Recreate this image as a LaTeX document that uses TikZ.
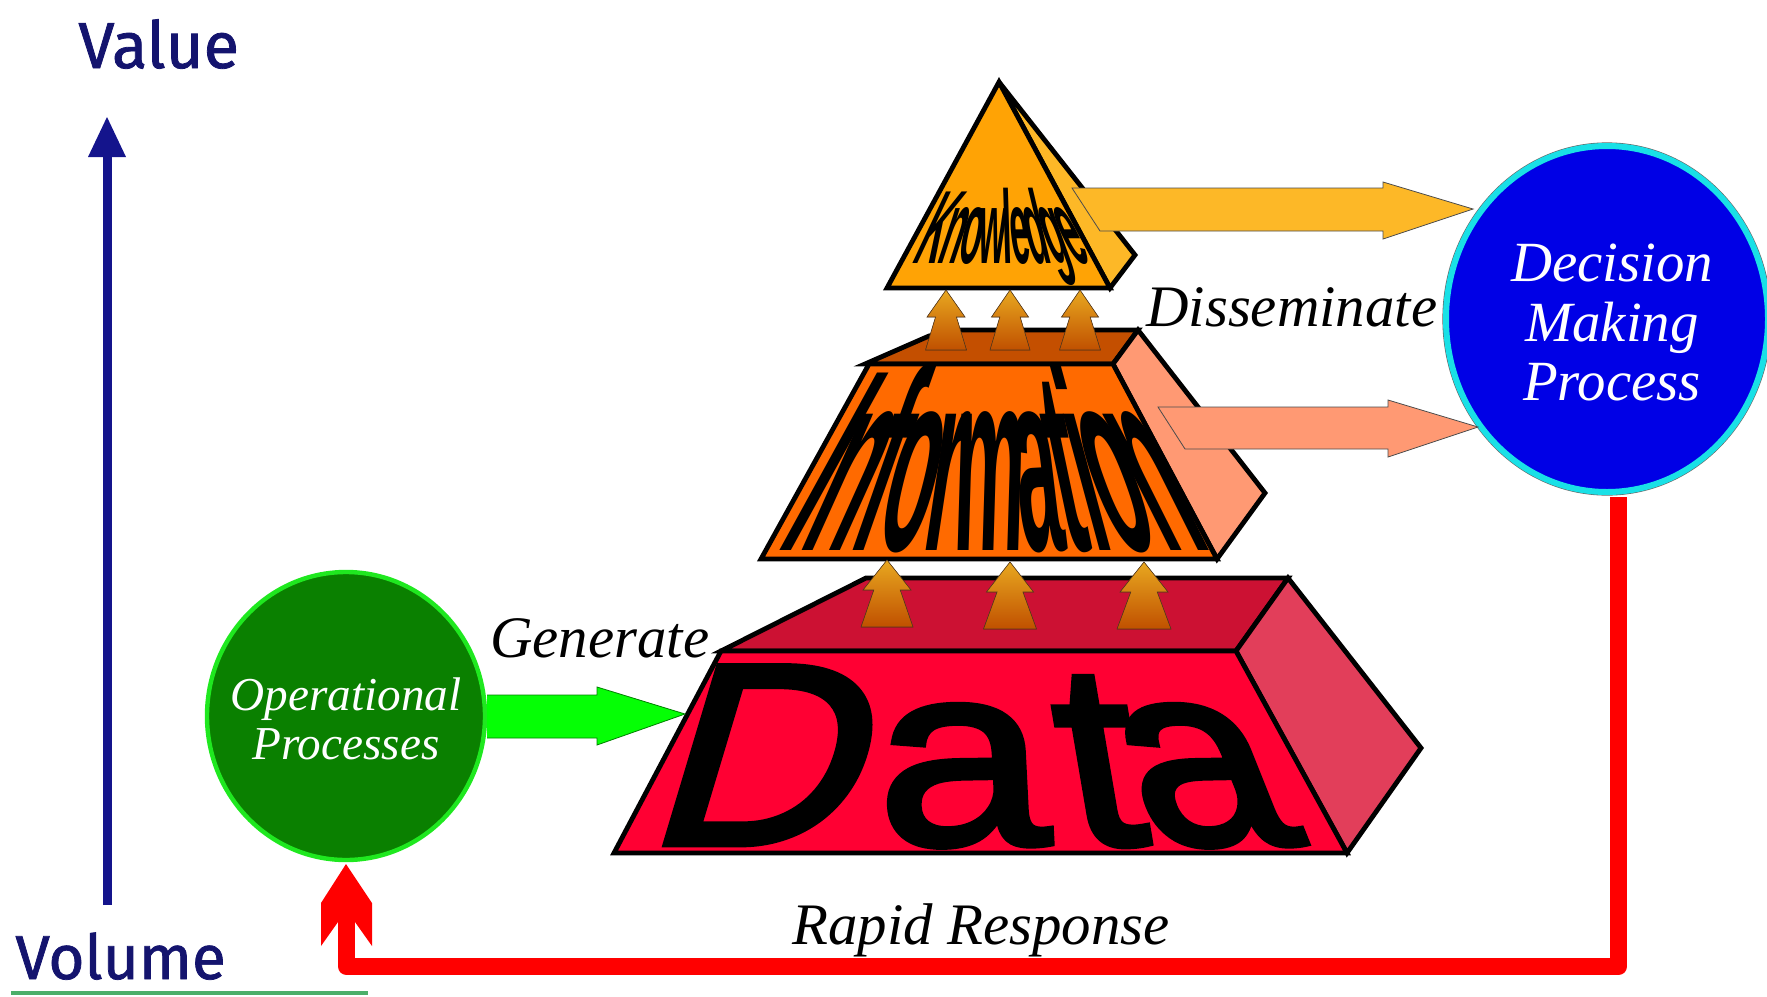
\documentclass[tikz,border=0pt]{standalone}
\usepackage{fontspec}
\usetikzlibrary{shapes.geometric}
\setmainfont{Liberation Serif}
\newfontfamily\handfont[FakeBold=1.2]{Fira Sans}
\newcommand\wl[3]{{\fontspec[FakeSlant=#1,FakeStretch=#2,BoldFont={*}]{Liberation Sans Bold}#3}}
\newcommand\wreg[3]{{\fontspec[FakeSlant=#1,FakeStretch=#2,FakeBold=2.6]{Liberation Sans}#3}}
\definecolor{navyT}{HTML}{14146E}
\definecolor{navyA}{HTML}{14148C}
\definecolor{kFront}{HTML}{FFA305}
\definecolor{kSide}{HTML}{FDB827}
\definecolor{iFront}{HTML}{FF6A00}
\definecolor{iTop}{HTML}{C44F00}
\definecolor{iSide}{HTML}{FF9973}
\definecolor{dFront}{HTML}{FF0033}
\definecolor{dTop}{HTML}{CC1133}
\definecolor{dSide}{HTML}{E23E5A}
\definecolor{gArrow}{HTML}{05FF05}
\definecolor{opFill}{HTML}{0A8000}
\definecolor{opRing}{HTML}{1FE81F}
\definecolor{dmFill}{HTML}{0000E6}
\definecolor{dmRing}{HTML}{19E0E6}
\definecolor{baseLine}{HTML}{4CAF6A}
\definecolor{liftTop}{HTML}{E8A820}
\definecolor{liftBot}{HTML}{C05000}
\tikzset{
  face/.style={draw=black,line width=2.4pt,line join=miter},
  block/.style={draw=black!70,line width=.4pt},
  serifit/.style={inner sep=0,font=\fontsize{29.4}{29.4}\selectfont\itshape},
  hand/.style={inner sep=0,text=navyT,font=\handfont\fontsize{#1}{#1}\selectfont},
  warp/.style={inner sep=0,anchor=base west,text=black}
}
\newcommand\liftarrow[7]{%
  \fill[draw=black!55!brown,line width=.3pt,top color=liftTop,bottom color=liftBot]
   (#1,#2) -- (#1+#3,#4) -- (#1+0.55*#3,#4) -- (#1+#5,#6) -- (#1-#5,#6) -- (#1-0.55*#3,#4) -- (#1-#3,#4) -- cycle;
  \coordinate (#7) at (#1,#2);}
\begin{document}
\begin{tikzpicture}[x=0.5pt,y=-0.5pt]
\useasboundingbox (0,0) rectangle (1767,996);
% axis
\coordinate (axisbot) at (107,905);
\coordinate (axistop) at (107,117);
\node[hand=32.5,anchor=base west] (value) at (78,68) {Value};
\node[hand=31,anchor=base west] (volume) at (15,979) {Volume};
\draw[navyA,line width=4.5pt] (axisbot) -- (107,150);
\fill[navyA] (axistop) -- (126,157) -- (88,157) -- cycle;
\draw[baseLine,line width=2pt] (11,993) -- (368,993);
% Data
\fill[dTop,face] (721,651) -- (866,578) -- (1288,578) -- (1236,651) -- cycle;
\fill[dSide,face] (1236,651) -- (1288,578) -- (1421,748) -- (1347,853) -- cycle;
\fill[dFront,face] (721,651) -- (1236,651) -- (1347,853) -- (614,853) -- cycle;
\node[warp,font=\fontsize{129}{129}\selectfont] (data) at (642,844) {\wreg{0.3}{1.12}{D}\kern 14pt\wreg{-0.05}{1.2}{a}\kern 11pt\wreg{-0.17}{1.1}{t}\wreg{-0.4}{1.08}{a}};
% Information
\fill[iTop,face] (865,364) -- (929,336) -- (960,330) -- (1138,330) -- (1113,364) -- cycle;
\fill[iSide,face] (1113,364) -- (1138,330) -- (1265,493) -- (1217,559) -- cycle;
\fill[iFront,face] (869,364) -- (1113,364) -- (1217,559) -- (761,559) -- cycle;
\node[warp,font=\fontsize{129}{129}\selectfont] (information) at (774,550) {\wl{.55}{.31}{I}\wl{.45}{.31}{n}\wl{.35}{.31}{f}\wl{.25}{.31}{o}\wl{.15}{.31}{r}\wl{.03}{.31}{m}\wl{-.12}{.31}{a}\wl{-.21}{.31}{t}\wl{-.27}{.31}{i}\wl{-.37}{.31}{o}\wl{-.5}{.31}{n}};
% Knowledge
\fill[kSide,face] (999,82) -- (1135,255) -- (1110,288) -- cycle;
\fill[kFront,face] (999,82) -- (1110,288) -- (887,288) -- cycle;
\node[warp,font=\fontsize{52}{52}\selectfont] (knowledge) at (910,263) {\wl{.47}{.33}{K}\wl{.33}{.33}{n}\wl{.21}{.33}{o}\wl{.07}{.33}{w}\wl{-.03}{.33}{l}\wl{-.11}{.33}{e}\wl{-.24}{.33}{d}\wl{-.36}{.33}{g}\wl{-.48}{.33}{e}};
% lift arrows
\liftarrow{946}{290}{19}{317}{20.5}{350}{la}
\liftarrow{1010}{290}{18.5}{317}{20}{350}{lb}
\liftarrow{1080}{290}{18.5}{317}{20.5}{350}{lc}
\liftarrow{887}{560}{24}{590}{26}{627}{ld}
\liftarrow{1010}{562}{23.5}{592}{26.5}{629}{le}
\liftarrow{1144}{562}{24}{592}{27}{629}{lf}
% circles
\node[ellipse,minimum width=139pt,minimum height=144pt,inner sep=0,fill=opFill,draw=opRing,line width=2.2pt] (op) at (346,716) {};
\node[text=white,align=center,inner sep=0,font=\fontsize{23.6}{24.5}\selectfont\itshape] (optext) at (346,719) {Operational\\Processes};
\node[ellipse,minimum width=161pt,minimum height=173pt,inner sep=0,fill=dmFill,draw=dmRing,line width=3pt,preaction={draw=black!60,line width=3.6pt}] (dm) at (1607,319) {};
\node[text=white,align=center,inner sep=0,font=\fontsize{28.4}{29.7}\selectfont\itshape] (dmtext) at (1612,322.5) {Decision\\Making\\Process};
% block arrows
\draw[block,fill=kSide] (1072,188) -- (1383,188) -- (1383,182) -- (1473,209) -- (1383,239) -- (1383,231) -- (1100,231) -- cycle;
\draw[block,fill=iSide] (1158,407) -- (1388,407) -- (1388,400) -- (1478,427) -- (1388,457) -- (1388,449) -- (1185,449) -- cycle;
\draw[block,fill=gArrow,draw=green!50!black] (op.east |- 0,695) -- (597,695) -- (597,687) -- (685,714) -- (597,745) -- (597,738) -- (op.east |- 0,738);
% red connector
\coordinate (redstart) at (1618.5,497);
\coordinate (redtip) at (346,864);
\draw[red,line width=8.5pt,line join=round] (redstart) -- (1618.5,966.5) -- (346.5,966.5) -- (346.5,915);
\fill[red] (redtip) -- (372,903) -- (372,946) -- (355,922) -- (338,922) -- (321,946) -- (321,903) -- cycle;
% labels
\node[serifit,anchor=base west] (diss) at (1146,326) {Disseminate};
\node[serifit,anchor=base west] (gen) at (490,657) {Generate};
\node[serifit,anchor=base west] (rapid) at (792,944) {Rapid Response};
\end{tikzpicture}
\end{document}
